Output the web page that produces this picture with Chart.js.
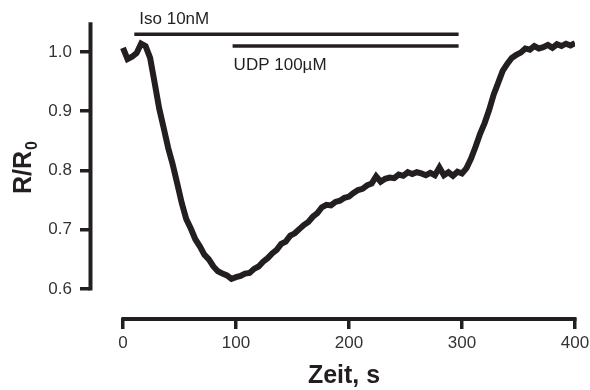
<!DOCTYPE html>
<html>
<head>
<meta charset="utf-8">
<script src="https://cdn.jsdelivr.net/npm/chart.js@4"></script>
<style>
  body { margin: 0; background: #fff; }
  canvas { display: block; }
</style>
</head>
<body>
<canvas id="chart" width="590" height="390"></canvas>
<script>
// time in seconds
const timeS = [
  0, 4, 8, 12, 16, 20, 24, 28, 32, 36, 40, 44, 48, 52, 56, 60, 64, 68, 72, 76,
  80, 84, 88, 92, 96, 100, 104, 108, 112, 116, 120, 124, 128, 132, 136, 140, 144, 148, 152, 156,
  160, 164, 168, 172, 176, 180, 184, 188, 192, 196, 200, 204, 208, 212, 216, 220, 224, 228, 232, 236,
  240, 244, 248, 252, 256, 260, 264, 268, 272, 276, 280, 284, 288, 292, 296, 300, 304, 308, 312, 316,
  320, 324, 328, 332, 336, 340, 344, 348, 352, 356, 360, 364, 368, 372, 376, 380, 384, 388, 392, 396, 400
];
// R/R0
const ratio = [
  1.007, 0.988, 0.992, 0.998, 1.014, 1.010, 0.990, 0.948, 0.905, 0.872, 0.838, 0.810, 0.778, 0.745, 0.718, 0.702, 0.684, 0.672, 0.658, 0.650,
  0.638, 0.630, 0.626, 0.623, 0.617, 0.620, 0.622, 0.626, 0.627, 0.634, 0.638, 0.646, 0.652, 0.660, 0.666, 0.676, 0.680, 0.690, 0.694, 0.701,
  0.708, 0.713, 0.722, 0.728, 0.738, 0.742, 0.741, 0.747, 0.749, 0.754, 0.756, 0.762, 0.767, 0.769, 0.775, 0.778, 0.790, 0.781, 0.786, 0.788,
  0.787, 0.793, 0.791, 0.797, 0.794, 0.797, 0.795, 0.792, 0.796, 0.792, 0.805, 0.792, 0.797, 0.791, 0.798, 0.795, 0.804, 0.820, 0.840, 0.862,
  0.880, 0.902, 0.928, 0.948, 0.968, 0.980, 0.990, 0.995, 0.999, 1.006, 1.004, 1.010, 1.006, 1.008, 1.012, 1.007, 1.013, 1.010, 1.014, 1.011, 1.015
];

// application bars: [start, end] in s, drawn at level
const isoBar = [10, 297];
const isoLevel = 1.030;
const udpBar = [97, 297];
const udpLevel = 1.010;

const xTicks = [0, 100, 200, 300, 400];
const yTicks = [0.6, 0.7, 0.8, 0.9, 1.0];

const ink = "#231f20";
const font = "'Liberation Sans', Arial, sans-serif";

const extras = {
  id: "extras",
  afterDraw(chart) {
    const ctx = chart.ctx;
    const x = chart.scales.x, y = chart.scales.y;
    ctx.save();
    ctx.strokeStyle = ink;
    ctx.lineWidth = 4;
    ctx.lineCap = "butt";
    // y axis line 0.6 .. 1.05
    ctx.beginPath();
    ctx.moveTo(chart.chartArea.left + 0.5, y.getPixelForValue(0.6) + 1.5);
    ctx.lineTo(chart.chartArea.left + 0.5, y.getPixelForValue(1.05));
    ctx.stroke();
    // x axis line 0 .. 400
    ctx.beginPath();
    ctx.moveTo(x.getPixelForValue(0) - 1.5, chart.chartArea.bottom + 1);
    ctx.lineTo(x.getPixelForValue(400) + 1.5, chart.chartArea.bottom + 1);
    ctx.stroke();

    ctx.fillStyle = ink;
    ctx.textBaseline = "alphabetic";
    ctx.textAlign = "left";
    ctx.font = "17px " + font;
    ctx.fillText("Iso 10nM", x.getPixelForValue(isoBar[0]) + 5, 24);
    ctx.fillText("UDP 100µM", x.getPixelForValue(udpBar[0]) + 1, 70);

    ctx.textAlign = "center";
    ctx.font = "bold 25px " + font;
    ctx.fillText("Zeit, s", 344, 383);

    // y title with subscript
    ctx.translate(31, 194);
    ctx.rotate(-Math.PI / 2);
    ctx.textAlign = "left";
    ctx.font = "bold 25px " + font;
    ctx.fillText("R/R", 0, 0);
    const w = ctx.measureText("R/R").width;
    ctx.font = "bold 16px " + font;
    ctx.fillText("0", w + 1, 6);
    ctx.restore();
  }
};

new Chart(document.getElementById("chart"), {
  type: "line",
  data: {
    datasets: [
      {
        data: timeS.map((t, i) => ({ x: t, y: ratio[i] })),
        borderColor: ink,
        borderWidth: 6,
        pointRadius: 0,
        tension: 0
      },
      {
        data: isoBar.map(t => ({ x: t, y: isoLevel })),
        borderColor: ink,
        borderWidth: 3.5,
        pointRadius: 0
      },
      {
        data: udpBar.map(t => ({ x: t, y: udpLevel })),
        borderColor: ink,
        borderWidth: 3.5,
        pointRadius: 0
      }
    ]
  },
  options: {
    responsive: false,
    animation: false,
    devicePixelRatio: 1,
    layout: { padding: { left: 0, right: 15, top: 0, bottom: 0 } },
    plugins: { legend: { display: false }, tooltip: { enabled: false } },
    scales: {
      x: {
        type: "linear",
        min: -29.2,
        max: 400,
        afterBuildTicks: s => { s.ticks = xTicks.map(v => ({ value: v })); },
        afterFit: s => { s.height = 72; s.paddingLeft = 0; s.paddingRight = 0; },
        border: { display: false },
        grid: { drawOnChartArea: false, drawTicks: true, tickLength: 11, lineWidth: 3.5, color: ink },
        ticks: {
          color: "#333",
          font: { family: font, size: 17 },
          padding: 4,
          maxRotation: 0,
          autoSkip: false,
          callback: v => String(v)
        }
      },
      y: {
        type: "linear",
        min: 0.55105,
        max: 1.08776,
        afterBuildTicks: s => { s.ticks = yTicks.map(v => ({ value: v })); },
        afterFit: s => { s.width = 90; s.paddingTop = 0; s.paddingBottom = 0; },
        border: { display: false },
        grid: { drawOnChartArea: false, drawTicks: true, tickLength: 10, lineWidth: 3.5, color: ink },
        ticks: {
          color: "#333",
          font: { family: font, size: 17 },
          padding: 8,
          autoSkip: false,
          callback: v => v.toFixed(1)
        }
      }
    }
  },
  plugins: [extras]
});
</script>
</body>
</html>
